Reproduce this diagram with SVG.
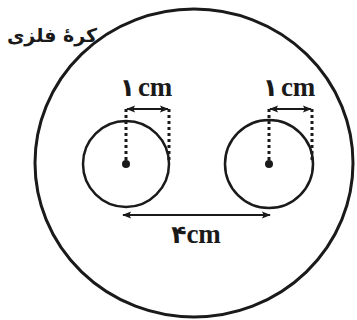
<svg xmlns="http://www.w3.org/2000/svg" width="357" height="320" viewBox="0 0 357 320">
<style>
.ln{fill:none;stroke:#1a1a1a}
.dot{stroke:#1a1a1a;stroke-width:3;stroke-dasharray:3 3;fill:none}
.arr{stroke:#1a1a1a;stroke-width:2;fill:none;marker-start:url(#ah);marker-end:url(#ah)}
.lbl{font-family:"Liberation Serif","DejaVu Serif",serif;font-weight:bold;font-size:27px;fill:#1a1a1a}
.fa{font-family:"DejaVu Sans","Noto Sans",sans-serif;font-weight:bold;font-size:25px}
</style>
<defs>
<marker id="ah" viewBox="0 0 10 10" refX="9" refY="5" markerWidth="13" markerHeight="9" markerUnits="userSpaceOnUse" orient="auto-start-reverse">
<path d="M0,1 L10,5 L0,9 L2,5 Z" fill="#1a1a1a"/>
</marker>
</defs>
<rect width="357" height="320" fill="#fff"/>
<g id="sphere">
<ellipse class="ln" cx="194" cy="163" rx="159" ry="154" stroke-width="3"/>
<text x="52" y="42" text-anchor="middle" font-family="DejaVu Sans,Noto Sans,sans-serif" font-weight="bold" font-size="19" fill="#1a1a1a">کرهٔ فلزی</text>
</g>
<g id="left-ball">
<circle class="ln" cx="126" cy="164" r="43" stroke-width="2.5"/>
<circle cx="126" cy="164" r="4" fill="#1a1a1a"/>
</g>
<g id="right-ball">
<circle class="ln" cx="269" cy="164" r="44" stroke-width="2.5"/>
<circle cx="269" cy="164" r="4" fill="#1a1a1a"/>
</g>
<g id="connectors">
<line class="dot" x1="126" y1="109" x2="126" y2="160"/>
<line class="dot" x1="169" y1="109" x2="169" y2="162"/>
<line class="dot" x1="269" y1="109" x2="269" y2="160"/>
<line class="dot" x1="312" y1="109" x2="312" y2="162"/>
<line class="arr" x1="127" y1="109" x2="168" y2="109"/>
<line class="arr" x1="270" y1="109" x2="311" y2="109"/>
<line class="arr" x1="123" y1="215" x2="270" y2="215"/>
</g>
<g id="labels">
<text class="lbl" x="146" y="96" text-anchor="middle"><tspan class="fa">۱</tspan><tspan dx="3">cm</tspan></text>
<text class="lbl" x="289" y="96" text-anchor="middle"><tspan class="fa">۱</tspan><tspan dx="3">cm</tspan></text>
<text class="lbl" x="196" y="243" text-anchor="middle"><tspan class="fa">۴</tspan>cm</text>
</g>
</svg>
